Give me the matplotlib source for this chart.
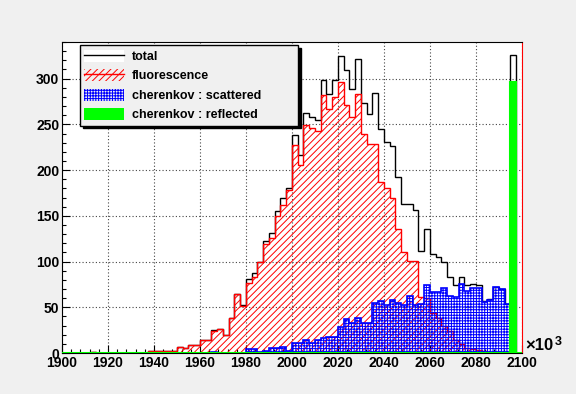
import numpy as np
import matplotlib.pyplot as plt
from matplotlib.patches import Patch
from matplotlib.lines import Line2D

plt.rcParams['font.family'] = 'Liberation Sans'
plt.rcParams['font.weight'] = 'bold'
plt.rcParams['hatch.linewidth'] = 0.7

# 80 bins of width 2.5 (x10^3) from 1900 to 2100
x_min, x_max, n_bins = 1900, 2100, 80

# bin contents, bin k starts at 1900 + 2.5*k
total = [0, 0, 0, 0, 0, 1, 0, 0, 0, 0,
         0, 0, 0, 0, 0, 2, 2, 2, 2, 2,
         7, 6, 9, 9, 14, 14, 25, 26, 20, 38,
         65, 53, 81, 87, 100, 122, 131, 155, 170, 180,
         238, 216, 262, 258, 255, 299, 283, 299, 325, 309,
         289, 321, 273, 261, 284, 245, 231, 226, 192, 163,
         163, 156, 112, 136, 108, 105, 99, 83, 74, 83,
         74, 75, 74, 57, 59, 72, 70, 54, 326, 0]

fluorescence = [0, 0, 0, 0, 0, 1, 0, 0, 0, 0,
                0, 0, 0, 0, 0, 2, 2, 2, 2, 2,
                7, 6, 9, 9, 14, 14, 24, 26, 20, 38,
                64, 51, 77, 83, 99, 119, 126, 150, 162, 178,
                227, 206, 249, 246, 243, 282, 267, 280, 296, 271,
                258, 283, 240, 229, 229, 187, 180, 170, 136, 110,
                101, 101, 61, 60, 44, 38, 30, 24, 14, 10,
                6, 4, 3, 2, 1, 1, 0, 0, 0, 0]

scattered = [0, 0, 0, 0, 0, 0, 0, 0, 0, 0,
             0, 0, 0, 0, 0, 0, 0, 0, 0, 0,
             0, 0, 0, 0, 0, 0, 1, 0, 0, 0,
             0, 0, 4, 4, 1, 2, 5, 5, 7, 2,
             11, 11, 14, 11, 14, 16, 18, 18, 28, 37,
             33, 38, 33, 33, 55, 57, 52, 58, 55, 53,
             62, 53, 54, 74, 67, 67, 71, 62, 61, 76,
             68, 71, 71, 56, 58, 72, 70, 54, 0, 0]

reflected = [0] * 78 + [296, 0]

labels = ['total', 'fluorescence', 'cherenkov : scattered', 'cherenkov : reflected']

edges = np.linspace(x_min, x_max, n_bins + 1)

fig = plt.figure(figsize=(5.76, 3.94), dpi=100, facecolor='#f0f0f0')
ax = fig.add_axes([0.1076, 0.104, 0.7986, 0.7893])
ax.set_facecolor('white')

# histograms, drawn in the same order as the original
ax.stairs(total, edges, color='black', lw=1, zorder=3)
ax.stairs(fluorescence, edges, fill=True, facecolor='none', edgecolor='red',
          hatch='/////', lw=1, zorder=4)
ax.stairs(scattered, edges, fill=True, facecolor='none', edgecolor='blue',
          hatch='++++++', lw=1.2, zorder=5)
ax.stairs(reflected, edges, fill=True, facecolor='#00ff00', edgecolor='#00ff00',
          lw=1.5, zorder=6)

ax.set_xlim(x_min, x_max)
ax.set_ylim(0, 340)
ax.set_xticks(np.arange(1900, 2101, 20))
ax.set_xticks(np.arange(1900, 2101, 4), minor=True)
ax.set_yticks(np.arange(0, 301, 50))
ax.set_yticks(np.arange(0, 341, 10), minor=True)
ax.tick_params(which='both', direction='in', top=False, right=False, labelsize=10)
ax.tick_params(which='major', length=6, width=0.8, pad=2)
ax.tick_params(which='minor', length=3, width=0.8)
ax.grid(True, which='major', ls=(0, (1, 2)), color='#444444', lw=0.8)
ax.set_axisbelow(True)
ax.spines['right'].set_color('red')

# exponent label at the end of the x axis
fig.text(525 / 576, 1 - 353 / 394, '×10', ha='left', va='bottom', fontsize=12)
fig.text(555 / 576, 1 - 348 / 394, '3', ha='left', va='bottom', fontsize=9)

handles = [
    (Patch(facecolor='white', edgecolor='none'), Line2D([], [], color='black', lw=1)),
    (Patch(facecolor='none', edgecolor='red', hatch='/////', lw=0), Line2D([], [], color='red', lw=1)),
    Patch(facecolor='none', edgecolor='blue', hatch='++++++', lw=0),
    Patch(facecolor='#00ff00', edgecolor='none'),
]
leg = ax.legend(handles, labels, loc='upper left', bbox_to_anchor=(0.039, 0.99, 0.474, 0),
                mode='expand', prop={'size': 9, 'weight': 'bold'}, frameon=True,
                fancybox=False, edgecolor='black', facecolor='#f0f0f0', framealpha=1,
                shadow={'color': 'black', 'alpha': 1}, handlelength=3.2, handleheight=1.1,
                handletextpad=0.6, labelspacing=0.5, borderpad=0.35, borderaxespad=0)
leg.set_zorder(10)

fig.savefig('out.png', dpi=100, facecolor=fig.get_facecolor())
